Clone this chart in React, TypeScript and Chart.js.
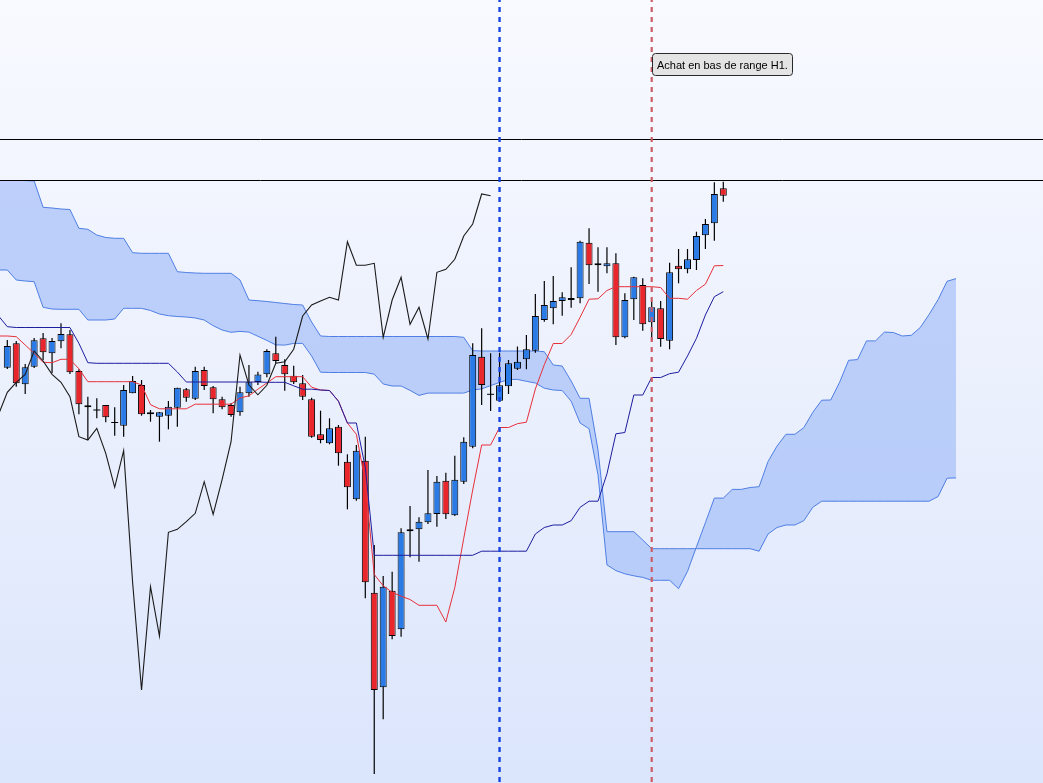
import { useEffect, useRef } from "react";
import { Chart, registerables } from "chart.js";

Chart.register(...registerables);

// ---- Data (price units, no axis labels on the original) ----
// Candles, index 0..80
const opens = [
  632.3, 656.7, 615.7, 633.3, 661.7, 646.7, 658.7, 665.7, 629, 594.7,
  590.5, 595, 578, 574.3, 606.7, 615, 587.7, 583.3, 584.3, 592.3,
  610.7, 601.3, 630, 612.7, 600.7, 595, 587.7, 606.7, 618, 625.7,
  646.7, 635, 624.3, 616.7, 600.7, 565.7, 556.7, 573.3, 538.3, 500.7,
  539.3, 407.3, 312.7, 409.3, 370.7, 468.7, 470.7, 477.7, 486, 519.3,
  484.7, 518.3, 553.3, 643.3, 606.2, 599.3, 613.7, 631.3, 640.7, 649.3,
  680, 691.7, 699, 702, 701.7, 757.3, 736.7, 733.7, 736.7, 662.7,
  700.7, 715, 677.7, 691.7, 659.3, 734.3, 730.7, 740, 764.7, 776.7,
  811.7,
];
const highs = [
  660, 659, 636, 662, 667, 662, 676.7, 670, 630.7, 603.3,
  601.7, 595, 592.7, 615, 624, 620, 590, 588, 599, 612.3,
  612, 633.3, 633.3, 614, 603.3, 597, 613.3, 635, 628.3, 650.7,
  663.3, 640.7, 634.3, 625, 602.3, 589.3, 581.7, 575, 545.7, 555,
  563.3, 455, 424, 428.3, 471.7, 494, 482.7, 530, 524, 527.3,
  544.3, 562.7, 656.7, 671.7, 646.7, 647.3, 640, 653.5, 665, 706,
  719, 724, 707.7, 732.7, 759.3, 771.7, 752.7, 752.7, 746.7, 706.7,
  723.3, 721.7, 698.3, 699, 737.3, 751, 751, 768.3, 781, 817.7,
  818.3,
];
const lows = [
  631, 613.3, 606, 632, 640, 627, 651.7, 626, 585.7, 560,
  581.7, 577.7, 564.3, 563.3, 606.7, 584.3, 578.3, 558.3, 570.7, 573.3,
  598.3, 600, 610, 586.7, 590.7, 583.3, 584.3, 603.3, 615, 622.7,
  636.7, 609.3, 616, 600, 562.3, 556.7, 555.7, 534.3, 490.7, 499.3,
  401.7, 226, 280.7, 360.7, 363.3, 442.7, 438.3, 476, 473.3, 481,
  484, 516, 551.7, 595, 589, 598.3, 606, 630, 630.8, 647.3,
  678.3, 675.7, 684.3, 692.3, 696.7, 716, 708.3, 726.7, 655, 661.7,
  680, 669.3, 658.3, 653.3, 650.7, 716.7, 726.7, 730, 751, 759.3,
  798.3,
];
const closes = [
  654, 616.7, 632.7, 659.7, 647.7, 659, 666, 627.7, 595.7, 592.7,
  589.5, 582.7, 577, 610, 619, 585.7, 585.7, 587.7, 593.3, 612.3,
  602.3, 629, 614, 600.7, 592.7, 585, 607.7, 617.7, 625.5, 649,
  639, 625.7, 617.7, 603.3, 563.3, 560, 571.7, 546.7, 512.7, 549.3,
  417.7, 310, 413.3, 364, 467.7, 470.7, 478.3, 486.7, 518.3, 485.7,
  520.3, 558.3, 645, 615, 605.2, 614.7, 636.7, 638.3, 650.8, 684,
  695, 699, 702.7, 700, 758.3, 734.7, 734.7, 736.7, 662.7, 700,
  722.7, 675.7, 692.7, 661, 727.7, 730.7, 740.7, 764, 776, 806,
  804.3,
];

// Indicator series start one period before candle 0
const SERIES_START = -1;
const tenkan = [
  664, 664, 663.3, 655, 646.7, 637.7, 637.3, 640.7, 640.7, 631.2,
  618.3, 618.3, 618.3, 618.3, 618.3, 618.3, 615, 595.3, 591.2, 591.2,
  591.2, 591.2, 595.8, 595.8, 595.8, 595.8, 595.8, 602, 604.2, 610.8,
  617, 623.3, 623.3, 623.3, 623.3, 612.8, 610, 609.5, 598.8, 577,
  565.7, 518, 425.5, 414.2, 407.7, 403.8, 400.5, 394.7, 394.7, 394.7,
  378, 412.5, 461.7, 510, 555, 555, 572.5, 572.5, 576.3, 577.8,
  611, 635.3, 656.5, 656.5, 665.5, 682.7, 700.8, 701.2, 709.5, 713.3,
  713.3, 713.3, 713.3, 713.3, 712.5, 701.7, 701.7, 700.8, 709.5, 715.8,
  734.2, 734.5,
];
const kijun = [
  684.3, 673.3, 672.5, 672.5, 672.5, 672.5, 672.5, 672.5, 672.5, 656.7,
  637.3, 636.7, 636.7, 636.7, 636.7, 636.7, 636.7, 636.7, 636.7, 636.7,
  628, 618, 618, 618, 618, 618, 618, 618, 618, 618,
  617.7, 617.7, 617.7, 614.2, 610.8, 610.8, 610, 609.5, 598.8, 577,
  577, 532.5, 444.7, 444.7, 444.7, 444.7, 444.7, 444.7, 444.7, 444.7,
  444.7, 444.7, 444.7, 444.7, 448.8, 448.8, 448.8, 448.8, 448.8, 448.8,
  466, 472.5, 475, 475, 479.3, 492.7, 498.8, 498.8, 526.2, 566.2,
  567.5, 605, 605, 622.5, 622.5, 626.3, 627.8, 644, 661.7, 685,
  703.3, 708.3,
];
const chikou = [
  585, 607.7, 617.7, 625.5, 649, 639, 625.7, 617.7, 603.3, 563.3,
  560, 571.7, 546.7, 512.7, 549.3, 417.7, 310, 413.3, 364, 467.7,
  470.7, 478.3, 486.7, 518.3, 485.7, 520.3, 558.3, 645, 615, 605.2,
  614.7, 636.7, 638.3, 650.8, 684, 695, 699, 702.7, 700, 758.3,
  734.7, 734.7, 736.7, 662.7, 700, 722.7, 675.7, 692.7, 661, 727.7,
  730.7, 740.7, 764, 776, 806, 804.3,
];
const senkouA = [
  730, 730, 720, 719, 718.3, 692.7, 691, 690.7, 690.7, 690.7,
  680, 680, 680, 681, 691.7, 691.7, 691.7, 689.5, 686, 684.3,
  683.5, 683, 682, 680, 674.3, 670, 667.7, 668.6, 667.9, 663.7,
  659.6, 655.1, 654.9, 656.6, 656.6, 644, 627.8, 627.5, 627.5, 627.5,
  627.5, 627.5, 625.8, 616, 614, 614, 609.6, 604.6, 606.9, 606.9,
  606.9, 606.9, 606.9, 610, 611.1, 614.4, 617.5, 620.6, 620.6, 618.7,
  617, 611.8, 610, 609.5, 598.8, 577, 571.3, 525.2, 435.1, 429.4,
  426.2, 424.2, 422.6, 419.7, 419.7, 419.7, 411.3, 428.6, 453.2, 477.3,
  501.9, 501.9, 510.6, 510.6, 512.5, 513.3, 538.5, 553.9, 565.7, 565.7,
  572.4, 587.7, 599.8, 600, 617.8, 639.7, 640.4, 659.1, 659.1, 667.9,
  667.5, 664, 664.7, 672.4, 685.6, 700.4, 718.7, 721.4,
];
const senkouB = [
  819.5, 819.5, 819.5, 819.5, 819, 792.7, 792, 791, 790.5, 771.7,
  770.7, 765, 762.5, 761.7, 761.7, 747.3, 746.7, 746.7, 746.7, 746.7,
  728.3, 727.5, 727, 726.7, 726.7, 726.7, 726.7, 720, 700, 699.3,
  698.5, 697.5, 696.5, 695.5, 695, 678, 664, 663.5, 663.5, 663.5,
  663.5, 663.5, 663.5, 663.5, 663.5, 663.5, 663.5, 663.5, 663.5, 663.5,
  663.5, 663.5, 662.7, 649.3, 649, 649, 649, 649, 649, 649,
  649, 648.3, 635, 634, 619, 601.7, 601.7, 550, 468.3, 468.3,
  468.3, 468.3, 460, 451.3, 451.3, 451.3, 451.3, 451.3, 451.3, 451.3,
  451.3, 451.3, 451.3, 451.3, 451.3, 448.8, 466, 472.5, 475, 475,
  479.3, 492.7, 498.8, 498.8, 498.8, 498.8, 498.8, 498.8, 498.8, 498.8,
  498.8, 498.8, 498.8, 498.8, 498.8, 503.5, 521.8, 522.1,
];

const levelLines = [860.5, 819.5];
const markerBlue = 55;
const markerRed = 72;
const noteText = "Achat en bas de range H1.";
const noteX = 72;
const notePrice = 946.7;

// view window
const X_MIN = -0.8156;
const X_MAX = 115.72;
const Y_MIN = 217;
const Y_MAX = 1000;

const BLUE = "#2b7be6";
const RED = "#e8262c";

const bgPlugin = {
  id: "bgGradient",
  beforeDraw(chart: any) {
    const { ctx, width, height } = chart;
    const g = ctx.createLinearGradient(0, 0, 0, height);
    g.addColorStop(0, "#f8faff");
    g.addColorStop(0.5, "#ebf0fd");
    g.addColorStop(1, "#dbe5fc");
    ctx.save();
    ctx.fillStyle = g;
    ctx.fillRect(0, 0, width, height);
    ctx.restore();
  },
};

const notePlugin = {
  id: "noteBox",
  afterDraw(chart: any) {
    const { ctx, scales } = chart;
    const x0 = Math.round(scales.x.getPixelForValue(noteX)) + 0.5;
    const y0 = Math.round(scales.y.getPixelForValue(notePrice)) + 0.5;
    ctx.save();
    ctx.font = '11px "Liberation Sans", Arial, sans-serif';
    const w = Math.round(ctx.measureText(noteText).width) + 9;
    const h = 22;
    ctx.beginPath();
    ctx.roundRect(x0, y0, w, h, 3);
    ctx.fillStyle = "#e4e4e4";
    ctx.fill();
    ctx.strokeStyle = "#2a2a2a";
    ctx.lineWidth = 1;
    ctx.stroke();
    ctx.fillStyle = "#000";
    ctx.textBaseline = "alphabetic";
    ctx.fillText(noteText, x0 + 4.5, y0 + 15.5);
    ctx.restore();
  },
};

const series = (arr: number[], start: number) => arr.map((v, k) => ({ x: k + start, y: v }));

export default function App() {
  const ref = useRef<HTMLCanvasElement | null>(null);

  useEffect(() => {
    if (!ref.current) return;
    const doji = opens.map((o, i) => Math.abs(closes[i] - o) < 1.5);
    const bodyColors = opens.map((o, i) => (doji[i] ? "#000" : closes[i] >= o ? BLUE : RED));

    const lineBase = {
      type: "line" as const,
      pointRadius: 0,
      pointHoverRadius: 0,
      tension: 0,
      fill: false,
      borderWidth: 1,
    };

    const chart = new Chart(ref.current, {
      type: "bar",
      data: {
        datasets: [
          // cloud
          {
            ...lineBase,
            label: "Senkou A",
            data: series(senkouA, SERIES_START),
            borderColor: "#4f7fe4",
            backgroundColor: "rgba(168,192,248,0.72)",
            fill: "+1",
            order: 10,
          },
          {
            ...lineBase,
            label: "Senkou B",
            data: series(senkouB, SERIES_START),
            borderColor: "#4f7fe4",
            order: 9,
          },
          // wicks
          {
            type: "bar",
            label: "wicks",
            data: highs.map((h, i) => ({ x: i, y: [lows[i], h] })),
            backgroundColor: "#000",
            borderWidth: 0,
            barThickness: 1.2,
            grouped: false,
            inflateAmount: 0,
            order: 6,
          } as any,
          // bodies
          {
            type: "bar",
            label: "bodies",
            data: opens.map((o, i) => ({ x: i, y: [o, closes[i]] })),
            backgroundColor: bodyColors,
            borderColor: "#000",
            borderWidth: doji.map((d) => (d ? 0 : 1)),
            borderSkipped: false,
            barThickness: 7,
            grouped: false,
            inflateAmount: 0,
            order: 5,
          } as any,
          {
            ...lineBase,
            label: "Chikou",
            data: series(chikou, SERIES_START),
            borderColor: "#1a1a1a",
            borderWidth: 1.1,
            order: 3,
          },
          {
            ...lineBase,
            label: "Kijun",
            data: series(kijun, SERIES_START),
            borderColor: "#1d1da0",
            order: 3,
          },
          {
            ...lineBase,
            label: "Tenkan",
            data: series(tenkan, SERIES_START),
            borderColor: "#e8303a",
            order: 3,
          },
          ...levelLines.map((lv) => ({
            ...lineBase,
            label: "level",
            data: [
              { x: X_MIN, y: lv },
              { x: X_MAX, y: lv },
            ],
            borderColor: "#000",
            order: 1,
          })),
          {
            ...lineBase,
            label: "blue marker",
            data: [
              { x: markerBlue, y: Y_MAX },
              { x: markerBlue, y: Y_MIN },
            ],
            borderColor: "#1444e4",
            borderWidth: 2.4,
            borderDash: [5, 5],
            borderDashOffset: 3,
            order: 0,
          },
          {
            ...lineBase,
            label: "red marker",
            data: [
              { x: markerRed, y: Y_MAX },
              { x: markerRed, y: Y_MIN },
            ],
            borderColor: "#cc5c66",
            borderWidth: 2.2,
            borderDash: [5, 5],
            borderDashOffset: 3,
            order: 0,
          },
        ] as any,
      },
      options: {
        responsive: true,
        maintainAspectRatio: false,
        animation: false,
        events: [],
        layout: { padding: 0 },
        scales: {
          x: { type: "linear", min: X_MIN, max: X_MAX, display: false, offset: false },
          y: { type: "linear", min: Y_MIN, max: Y_MAX, display: false },
        },
        plugins: {
          legend: { display: false },
          tooltip: { enabled: false },
        },
      } as any,
      plugins: [bgPlugin, notePlugin],
    });
    return () => chart.destroy();
  }, []);

  return (
    <div style={{ position: "fixed", left: 0, top: 0, width: 1043, height: 783 }}>
      <canvas ref={ref} />
    </div>
  );
}
